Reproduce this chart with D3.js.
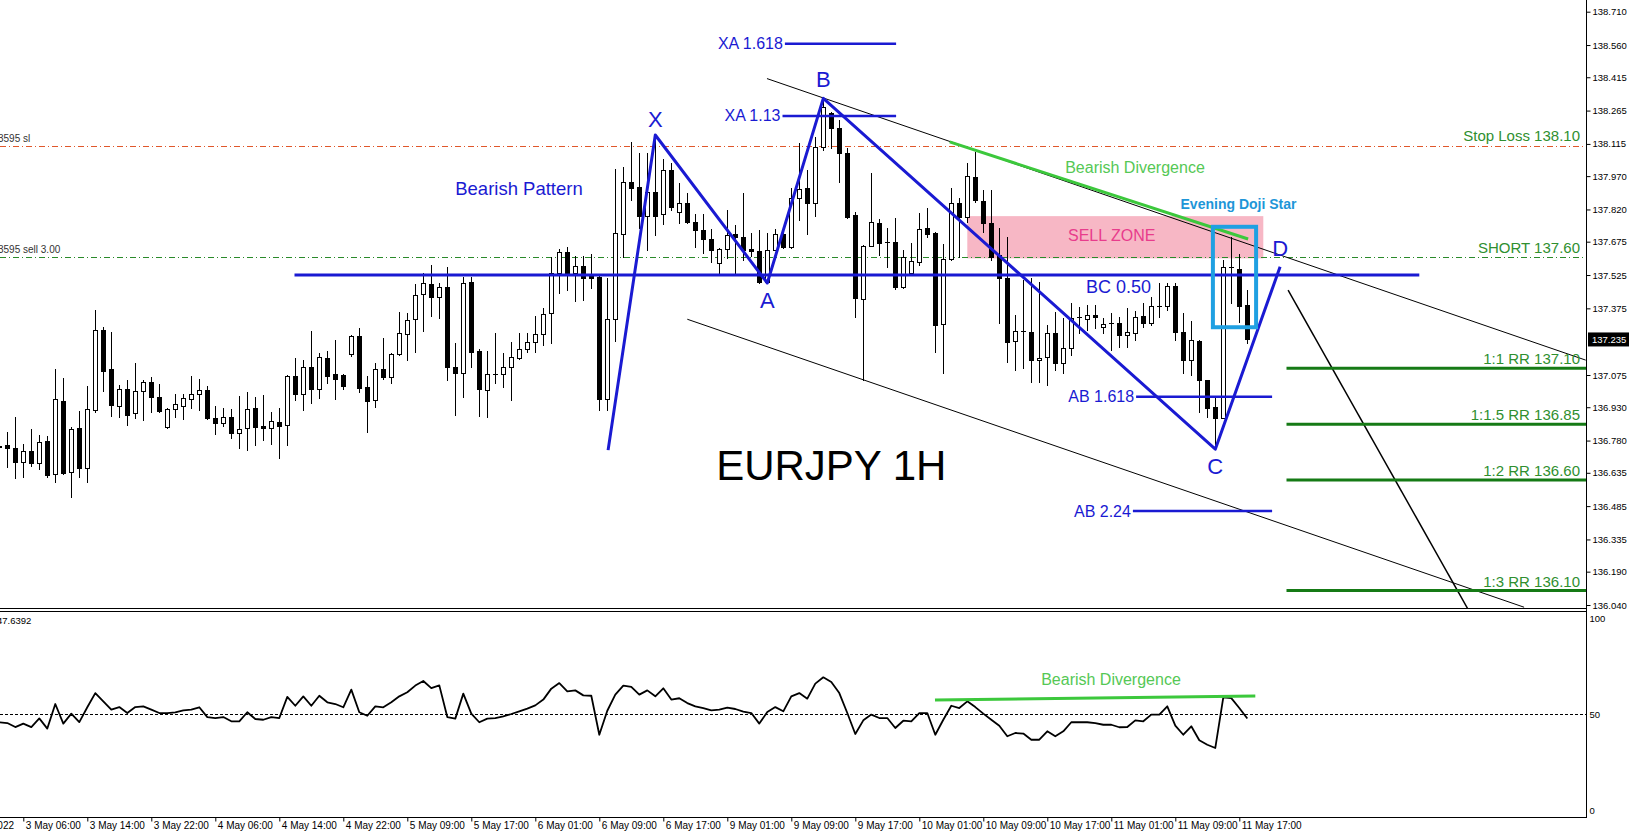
<!DOCTYPE html>
<html>
<head>
<meta charset="utf-8">
<script src="https://cdn.jsdelivr.net/npm/d3@7"></script>
<style>
body { margin: 0; background: #fff; }
svg { display: block; font-family: "Liberation Sans", Arial, sans-serif; }
</style>
</head>
<body>
<div id="chart"></div>
<script>
var width = 1630,
    height = 836;

// hourly candles, bar index 0..156
var open = [136.756,136.760,136.746,136.685,136.735,136.678,136.777,136.630,136.960,136.640,
136.836,136.656,136.918,137.278,137.101,136.937,137.011,136.903,137.005,137.045,
136.975,136.843,136.924,136.937,136.966,136.989,137.008,136.881,136.861,136.885,
136.816,136.836,136.926,136.846,136.836,136.865,136.850,137.071,136.989,137.110,
137.011,137.151,137.079,137.074,137.169,137.251,137.020,136.963,137.101,137.068,
137.169,137.260,137.326,137.440,137.484,137.425,137.473,137.110,137.083,137.495,
137.183,137.008,137.079,137.079,137.113,137.151,137.191,137.223,137.259,137.353,
137.536,137.628,137.536,137.567,137.521,137.518,136.966,137.326,137.710,137.943,
137.920,137.792,137.898,137.800,137.998,137.808,137.848,137.763,137.728,137.686,
137.578,137.641,137.709,137.695,137.641,137.633,137.495,137.638,137.708,137.650,
137.870,137.915,137.848,138.103,138.253,138.186,138.073,137.795,137.416,137.656,
137.761,137.675,137.675,137.470,137.533,137.585,137.736,137.716,137.304,137.596,
137.851,137.788,137.968,137.860,137.761,137.615,137.511,137.230,137.275,137.268,
137.143,137.158,137.263,137.128,137.196,137.335,137.326,137.345,137.293,137.308,
137.308,137.255,137.263,137.341,137.311,137.386,137.387,137.476,137.270,137.143,
137.230,137.053,136.930,136.881,137.560,137.551,137.390];

var high = [136.783,136.819,136.888,136.765,136.831,136.805,136.801,137.101,137.061,136.843,
136.912,137.026,137.367,137.293,137.269,137.030,137.053,137.128,137.053,137.065,
137.034,136.926,136.990,136.989,137.071,137.056,137.026,136.936,136.926,136.921,
136.981,137.000,136.978,136.985,136.909,136.928,137.075,137.151,137.143,137.274,
137.173,137.184,137.233,137.080,137.256,137.285,137.071,137.128,137.241,137.173,
137.359,137.353,137.484,137.533,137.571,137.491,137.560,137.218,137.518,137.518,
137.190,137.183,137.266,137.173,137.225,137.266,137.263,137.341,137.376,137.608,
137.641,137.650,137.611,137.611,137.619,137.520,137.511,138.002,138.013,138.125,
138.073,138.073,138.155,138.047,138.028,137.938,137.896,137.800,137.799,137.731,
137.648,137.818,137.751,137.893,137.713,137.728,137.714,137.731,137.737,137.915,
138.118,137.998,138.148,138.320,138.260,138.223,138.096,137.810,137.660,137.983,
137.776,137.736,137.781,137.638,137.671,137.803,137.826,137.720,137.665,137.915,
137.871,138.028,138.080,137.908,137.908,137.736,137.698,137.345,137.503,137.511,
137.495,137.300,137.360,137.331,137.398,137.383,137.390,137.390,137.331,137.353,
137.335,137.376,137.363,137.401,137.428,137.488,137.488,137.488,137.353,137.320,
137.233,137.053,136.971,137.593,137.698,137.620,137.458];

var low = [136.729,136.662,136.613,136.618,136.667,136.651,136.618,136.595,136.630,136.528,
136.615,136.595,136.910,137.005,136.892,136.888,136.850,136.881,136.873,136.910,
136.910,136.836,136.888,136.877,136.926,136.918,136.876,136.809,136.846,136.791,
136.746,136.738,136.760,136.783,136.765,136.701,136.760,136.963,136.918,136.948,
136.971,137.038,136.966,137.011,137.162,137.000,136.818,136.930,137.056,137.038,
137.165,137.143,137.180,137.275,137.342,137.331,137.053,136.895,136.978,137.113,
136.892,136.888,137.038,137.020,136.963,137.146,137.180,137.180,137.211,137.221,
137.446,137.458,137.410,137.413,137.466,136.918,136.918,137.230,137.605,137.863,
137.736,137.638,137.706,137.755,137.818,137.758,137.758,137.653,137.626,137.585,
137.530,137.601,137.526,137.593,137.611,137.491,137.488,137.636,137.646,137.646,
137.773,137.710,137.792,138.088,138.096,137.945,137.781,137.338,137.053,137.656,
137.616,137.563,137.461,137.466,137.526,137.571,137.698,137.180,137.086,137.593,
137.608,137.765,137.855,137.720,137.593,137.308,137.135,137.098,137.106,137.045,
137.045,137.030,137.098,137.083,137.165,137.263,137.278,137.286,137.263,137.188,
137.203,137.203,137.233,137.293,137.301,137.338,137.368,137.233,137.083,137.075,
136.910,136.885,136.741,136.881,137.399,137.315,137.218];

var close = [136.752,136.747,136.685,136.735,136.678,136.773,136.625,136.966,136.636,136.831,
136.656,136.921,137.278,137.095,136.940,137.011,136.895,137.005,137.045,136.975,
136.915,136.921,136.944,136.971,136.989,137.008,136.883,136.861,136.885,136.816,
136.831,136.921,136.843,136.836,136.870,136.846,137.071,136.989,137.110,137.011,
137.155,137.071,137.056,137.027,137.251,137.016,136.960,137.101,137.068,137.169,
137.263,137.323,137.436,137.488,137.425,137.470,137.113,137.083,137.491,137.180,
137.011,137.079,137.080,137.113,137.155,137.191,137.223,137.260,137.350,137.536,
137.630,137.536,137.567,137.511,137.511,136.966,137.326,137.713,137.943,137.918,
137.792,137.898,137.792,137.998,137.831,137.848,137.762,137.728,137.685,137.638,
137.641,137.705,137.695,137.636,137.633,137.495,137.638,137.708,137.651,137.870,
137.911,137.848,138.103,138.281,138.186,138.073,137.788,137.420,137.656,137.765,
137.671,137.674,137.473,137.608,137.588,137.731,137.710,137.301,137.596,137.851,
137.788,137.972,137.863,137.758,137.608,137.511,137.225,137.275,137.274,137.143,
137.153,137.263,137.128,137.196,137.331,137.334,137.345,137.335,137.304,137.307,
137.255,137.270,137.338,137.311,137.384,137.387,137.475,137.270,137.143,137.231,
137.053,136.926,136.881,137.560,137.559,137.386,137.235];

var rsi = [45.7,45.3,43.2,45.0,43.2,47.7,42.4,55.2,45.0,50.2,
45.8,53.5,60.9,56.6,52.3,53.6,50.5,53.6,54.0,52.3,
50.5,50.5,50.9,51.9,52.3,53.5,48.4,47.9,48.4,46.2,
46.2,50.9,47.4,47.0,48.4,47.9,58.9,54.3,59.2,54.3,
59.5,56.1,55.2,53.5,62.7,50.9,49.1,54.0,53.5,56.1,
59.2,61.3,64.8,67.2,63.5,64.9,48.4,47.6,60.6,50.2,
45.7,47.6,47.9,48.8,50.0,51.4,52.8,54.5,57.5,63.2,
66.1,61.8,62.3,59.7,59.5,39.2,51.7,60.1,64.8,64.1,
60.1,62.3,59.2,63.4,57.5,58.2,55.7,54.0,53.0,51.9,
52.3,53.3,52.6,51.2,50.5,45.0,51.0,53.6,51.4,59.2,
60.9,58.0,65.8,69.1,66.7,60.9,50.5,39.6,46.7,49.7,
47.9,47.9,42.7,46.5,46.2,50.5,50.5,39.2,47.0,54.3,
53.1,56.6,53.6,50.2,47.0,43.9,38.4,40.1,39.8,36.6,
36.6,41.0,38.4,41.0,45.7,45.7,45.7,45.3,44.4,44.4,
43.1,43.2,46.7,46.2,49.7,49.7,54.0,43.9,39.2,43.6,
36.3,34.0,32.3,58.7,58.3,53.1,47.64];
var rsiLast = "47.6392";

var priceTicks = [138.710, 138.560, 138.415, 138.265, 138.115, 137.970, 137.820, 137.675, 137.525,
    137.375, 137.075, 136.930, 136.780, 136.635, 136.485, 136.335, 136.190, 136.040];
var lastPrice = 137.235;
var rsiTicks = [0, 50, 100];

var timeIdx = [-5, 3, 11, 19, 27, 35, 43, 51, 59, 67, 75, 83, 91, 99, 107, 115, 123, 131, 139, 147, 155];
var timeLabels = ["2 May 2022", "3 May 06:00", "3 May 14:00", "3 May 22:00", "4 May 06:00", "4 May 14:00",
    "4 May 22:00", "5 May 09:00", "5 May 17:00", "6 May 01:00", "6 May 09:00", "6 May 17:00",
    "9 May 01:00", "9 May 09:00", "9 May 17:00", "10 May 01:00", "10 May 09:00", "10 May 17:00",
    "11 May 01:00", "11 May 09:00", "11 May 17:00"];

// pattern points [bar, price]
var pattern = [[76.1, 136.737], [82, 138.155], [96, 137.489], [103, 138.320], [152, 136.741], [160.1, 137.562]];
var patternNames = ["", "X", "A", "B", "C", "D"];

var fibNames = ["XA 1.618", "XA 1.13", "AB 1.618", "AB 2.24"];
var fibPrices = [138.566, 138.241, 136.977, 136.463];
var fibFrom = [98.2, 97.9, 142.1, 141.7];
var fibTo = [112.1, 112.1, 159.1, 159.1];
var bcLevel = [36.9, 177.5, 137.525];

var stopLoss = 138.106,
    shortPrice = 137.607;
var rrNames = ["1:1 RR 137.10", "1:1.5 RR 136.85", "1:2 RR 136.60", "1:3 RR 136.10"];
var rrPrices = [137.105, 136.853, 136.602, 136.105];
var rrFrom = 160.9;

var sellZone = [121, 158, 137.600, 137.790];
var dojiBox = [151.7, 157.1, 137.290, 137.742];
var upperChannel = [[95.96, 138.409], [198.3, 137.142]];
var lowerChannel = [[86.0, 137.326], [190.6, 136.03]];
var targetLine = [[161.1, 137.457], [183.6, 136.02]];
var divPrice = [[118.8, 138.124], [156.1, 137.687]];
var divRsi = [[116.96, 57.3], [157.0, 59.4]];

var svg = d3.select("#chart").append("svg")
    .attr("width", width)
    .attr("height", height);

var x = d3.scaleLinear().domain([0, 100]).range([-0.7, 799.3]);
var y = d3.scaleLinear().domain([136.040, 138.710]).range([605, 11.7]);
var yr = d3.scaleLinear().domain([0, 100]).range([810, 618]);

var axisX = 1586, mainBottom = 608.5, rsiTop = 611.5, rsiBottom = 817.5;

var defs = svg.append("defs");
defs.append("clipPath").attr("id", "clipMain").append("rect")
    .attr("x", 0).attr("y", 0).attr("width", axisX).attr("height", mainBottom);
defs.append("clipPath").attr("id", "clipRsi").append("rect")
    .attr("x", 0).attr("y", rsiTop).attr("width", axisX).attr("height", rsiBottom - rsiTop);

var main = svg.append("g").attr("clip-path", "url(#clipMain)");

// sell zone
main.append("rect")
    .attr("x", x(sellZone[0])).attr("width", x(sellZone[1]) - x(sellZone[0]))
    .attr("y", y(sellZone[3])).attr("height", y(sellZone[2]) - y(sellZone[3]))
    .style("fill", "#f7b7c5");

// trade levels
function tradeLine(p, color) {
    main.append("line")
        .attr("x1", 0).attr("x2", axisX)
        .attr("y1", Math.round(y(p)) + 0.5).attr("y2", Math.round(y(p)) + 0.5)
        .style("stroke", color).style("stroke-width", 1)
        .style("stroke-dasharray", "6,3,1,3");
}
tradeLine(stopLoss, "#e0572b");
tradeLine(shortPrice, "#2a8a2a");
main.append("text").attr("x", -2).attr("y", y(stopLoss) - 4)
    .attr("font-size", "10px").style("fill", "#333").text("3595 sl");
main.append("text").attr("x", -2).attr("y", y(shortPrice) - 4)
    .attr("font-size", "10px").style("fill", "#333").text("3595 sell 3.00");

// candles
var bars = d3.range(open.length);
var cx = function (k) { return Math.round(x(k)) + 0.5; };
var candles = main.append("g");
candles.selectAll("line.wick").data(bars).enter().append("line")
    .attr("class", "wick")
    .attr("x1", cx).attr("x2", cx)
    .attr("y1", function (k) { return Math.round(y(high[k])); })
    .attr("y2", function (k) { return Math.round(y(low[k])) + 1; })
    .style("stroke", "#000").style("stroke-width", 1);
bars.forEach(function (k) {
    var top = Math.round(y(Math.max(open[k], close[k]))),
        bot = Math.round(y(Math.min(open[k], close[k])));
    if (bot - top < 1) {
        candles.append("line")
            .attr("x1", cx(k) - 2.5).attr("x2", cx(k) + 2.5)
            .attr("y1", top + 0.5).attr("y2", top + 0.5)
            .style("stroke", "#000");
    } else {
        candles.append("rect")
            .attr("x", cx(k) - 2).attr("width", 4)
            .attr("y", top + 0.5).attr("height", bot - top)
            .style("fill", close[k] < open[k] ? "#000" : "#fff")
            .style("stroke", "#000").style("stroke-width", 1);
    }
});

// channel and target lines
function seg(pts, color, w) {
    main.append("line")
        .attr("x1", x(pts[0][0])).attr("y1", y(pts[0][1]))
        .attr("x2", x(pts[1][0])).attr("y2", y(pts[1][1]))
        .style("stroke", color).style("stroke-width", w);
}
seg(upperChannel, "#000", 1);
seg(lowerChannel, "#000", 1);
seg(targetLine, "#000", 1.5);

// RR targets
rrPrices.forEach(function (p, i) {
    main.append("line")
        .attr("x1", x(rrFrom)).attr("x2", axisX)
        .attr("y1", y(p)).attr("y2", y(p))
        .style("stroke", "#157a15").style("stroke-width", 3);
    main.append("text")
        .attr("x", 1580).attr("y", y(p) - 4)
        .attr("text-anchor", "end").attr("font-size", "15px")
        .style("fill", "#2f8f2f").text(rrNames[i]);
});
main.append("text").attr("x", 1580).attr("y", y(stopLoss) - 5)
    .attr("text-anchor", "end").attr("font-size", "15px")
    .style("fill", "#2f8f2f").text("Stop Loss 138.10");
main.append("text").attr("x", 1580).attr("y", y(shortPrice) - 4)
    .attr("text-anchor", "end").attr("font-size", "15px")
    .style("fill", "#2f8f2f").text("SHORT 137.60");

// fib levels
var blue = "#1a1ad2";
main.append("line")
    .attr("x1", x(bcLevel[0])).attr("x2", x(bcLevel[1]))
    .attr("y1", y(bcLevel[2])).attr("y2", y(bcLevel[2]))
    .style("stroke", blue).style("stroke-width", 3);
main.append("text").attr("x", x(139.9)).attr("y", y(bcLevel[2]) + 18)
    .attr("text-anchor", "middle").attr("font-size", "18px")
    .style("fill", blue).text("BC 0.50");
fibPrices.forEach(function (p, i) {
    main.append("line")
        .attr("x1", x(fibFrom[i])).attr("x2", x(fibTo[i]))
        .attr("y1", y(p)).attr("y2", y(p))
        .style("stroke", blue).style("stroke-width", 2.5);
    main.append("text")
        .attr("x", x(fibFrom[i]) - 2).attr("y", y(p) + 5.5)
        .attr("text-anchor", "end").attr("font-size", "16px")
        .style("fill", blue).text(fibNames[i]);
});

// XABCD pattern
main.append("path")
    .datum(pattern)
    .attr("d", d3.line().x(function (d) { return x(d[0]); }).y(function (d) { return y(d[1]); }))
    .style("fill", "none").style("stroke", blue).style("stroke-width", 3)
    .style("stroke-linejoin", "round");
var labelDy = [0, -8, 25, -11, 25, -11];
pattern.forEach(function (d, i) {
    if (!patternNames[i]) return;
    main.append("text")
        .attr("x", x(d[0])).attr("y", y(d[1]) + labelDy[i])
        .attr("text-anchor", "middle").attr("font-size", "22px")
        .style("fill", blue).text(patternNames[i]);
});

// divergence on price
seg(divPrice, "#3cc83c", 3);
main.append("text").attr("x", x(141.96)).attr("y", y(137.983))
    .attr("text-anchor", "middle").attr("font-size", "16px")
    .style("fill", "#55c855").text("Bearish Divergence");

// evening doji star
main.append("rect")
    .attr("x", x(dojiBox[0])).attr("width", x(dojiBox[1]) - x(dojiBox[0]))
    .attr("y", y(dojiBox[3])).attr("height", y(dojiBox[2]) - y(dojiBox[3]))
    .style("fill", "none").style("stroke", "#1fa0e2").style("stroke-width", 4);
main.append("text").attr("x", x(154.9)).attr("y", y(137.822))
    .attr("text-anchor", "middle").attr("font-size", "14px").attr("font-weight", "bold")
    .style("fill", "#1e96d8").text("Evening Doji Star");

main.append("text").attr("x", x(139.05)).attr("y", y(137.678))
    .attr("text-anchor", "middle").attr("font-size", "16px")
    .style("fill", "#e83c8c").text("SELL ZONE");
main.append("text").attr("x", x(64.96)).attr("y", y(137.885))
    .attr("text-anchor", "middle").attr("font-size", "18.5px")
    .style("fill", blue).text("Bearish Pattern");
main.append("text").attr("x", x(104)).attr("y", y(136.602))
    .attr("text-anchor", "middle").attr("font-size", "42px")
    .style("fill", "#000").text("EURJPY 1H");

// RSI panel
var sub = svg.append("g").attr("clip-path", "url(#clipRsi)");
sub.append("line")
    .attr("x1", 0).attr("x2", axisX)
    .attr("y1", Math.round(yr(50)) + 0.5).attr("y2", Math.round(yr(50)) + 0.5)
    .style("stroke", "#000").style("stroke-dasharray", "3,2");
sub.append("path")
    .datum(rsi)
    .attr("d", d3.line().x(function (d, i) { return x(i); }).y(function (d) { return yr(d); }))
    .style("fill", "none").style("stroke", "#000").style("stroke-width", 1.8)
    .style("stroke-linejoin", "round");
sub.append("line")
    .attr("x1", x(divRsi[0][0])).attr("y1", yr(divRsi[0][1]))
    .attr("x2", x(divRsi[1][0])).attr("y2", yr(divRsi[1][1]))
    .style("stroke", "#3cc83c").style("stroke-width", 3);
sub.append("text").attr("x", x(138.96)).attr("y", yr(65.1))
    .attr("text-anchor", "middle").attr("font-size", "16px")
    .style("fill", "#55c855").text("Bearish Divergence");
sub.append("text").attr("x", -3).attr("y", 624)
    .attr("font-size", "9.5px").style("fill", "#000").text(rsiLast);

// frame lines
function hline(yy, x2) {
    svg.append("line").attr("x1", 0).attr("x2", x2).attr("y1", yy).attr("y2", yy)
        .style("stroke", "#000").style("stroke-width", 1);
}
hline(mainBottom, axisX);
hline(rsiTop, axisX + 1);
hline(rsiBottom, axisX + 1);
svg.append("line").attr("x1", axisX + 0.5).attr("x2", axisX + 0.5)
    .attr("y1", 0).attr("y2", rsiBottom)
    .style("stroke", "#000");

// price axis
var pAxis = svg.append("g")
    .attr("transform", "translate(" + (axisX + 0.5) + ",0)")
    .call(d3.axisRight(y).tickValues(priceTicks).tickSize(4).tickPadding(2)
        .tickFormat(d3.format(".3f")));
pAxis.select(".domain").remove();
pAxis.selectAll("text").attr("font-size", "9.5px")
    .attr("font-family", "Liberation Sans, Arial, sans-serif");

var lp = svg.append("g").attr("transform", "translate(" + (axisX + 2) + "," + y(lastPrice) + ")");
lp.append("rect").attr("x", 0).attr("y", -7).attr("width", 41).attr("height", 14)
    .style("fill", "#000");
lp.append("text").attr("x", 4).attr("y", 3.5).attr("font-size", "9.5px")
    .style("fill", "#fff").text(d3.format(".3f")(lastPrice));

// rsi axis
var rAxis = svg.append("g")
    .attr("transform", "translate(" + (axisX + 0.5) + ",0)")
    .call(d3.axisRight(yr).tickValues(rsiTicks).tickSize(0).tickPadding(3));
rAxis.select(".domain").remove();
rAxis.selectAll("text").attr("font-size", "9.5px")
    .attr("font-family", "Liberation Sans, Arial, sans-serif");

// time axis
var tAxis = svg.append("g")
    .attr("transform", "translate(0," + rsiBottom + ")")
    .call(d3.axisBottom(x).tickValues(timeIdx).tickSize(4)
        .tickFormat(function (d, i) { return timeLabels[i]; }));
tAxis.select(".domain").remove();
tAxis.selectAll("text")
    .attr("text-anchor", "start").attr("x", 2).attr("y", 4)
    .attr("font-size", "10px")
    .attr("font-family", "Liberation Sans, Arial, sans-serif");
</script>
</body>
</html>
